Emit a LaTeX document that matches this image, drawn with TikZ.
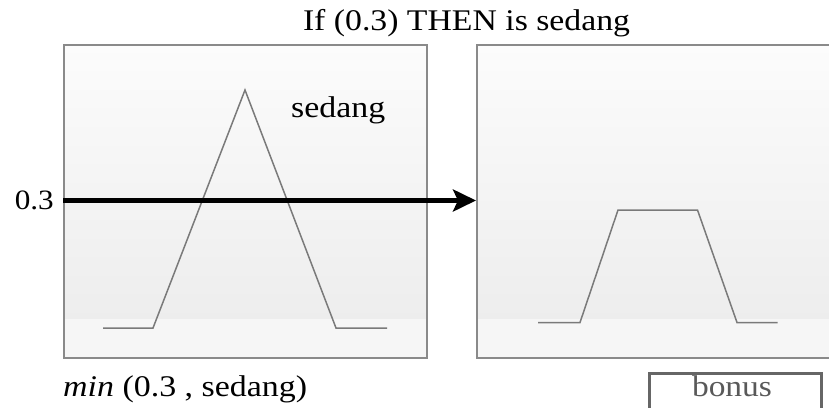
\documentclass[tikz,border=0pt]{standalone}
\usepackage{fontspec}
\usepackage{graphicx}
\setmainfont{Liberation Serif}
\usetikzlibrary{arrows.meta}
\newcommand{\hfitbox}[2]{\resizebox{#1}{\height}{#2}}
\definecolor{framegray}{HTML}{8A8A8A}
\definecolor{curvegray}{HTML}{7A7A7A}
\definecolor{bandgray}{HTML}{F6F6F6}
\definecolor{bonusgray}{HTML}{666666}
\tikzset{
  panel/.style={draw=none, top color=white!60!black!3, bottom color=black!7},
  frame/.style={draw=framegray, line width=1.6pt},
  band/.style={fill=bandgray, draw=none},
  mf/.style={draw=curvegray, line width=1.5pt, line join=miter},
  lab/.style={inner sep=0pt, font=\fontsize{30}{33}\selectfont},
  bigarrow/.style={draw=black, line width=4.5pt, -{Stealth[length=23pt, width=22pt, inset=5pt]}},
}
\begin{document}
\begin{tikzpicture}[x=1pt, y=-1pt]
\useasboundingbox (0,0) rectangle (829,407);
\clip (0,0) rectangle (829,407);
% left panel
\shade[panel] (63,44) rectangle (426,319);
\fill[band] (63,319) rectangle (426,357);
\node[frame, minimum width=363pt, minimum height=313pt, inner sep=0pt, anchor=north west] (inbox) at (63,44) {};
% right panel
\shade[panel] (476,44) rectangle (845,319);
\fill[band] (476,319) rectangle (845,357);
\node[frame, minimum width=369pt, minimum height=313pt, inner sep=0pt, anchor=north west] (outbox) at (476,44) {};
% membership functions
\draw[mf] (103,328) -- (153,328) -- (245,90) -- (336,328) -- (387,328);
\draw[mf] (538,322.5) -- (580,322.5) -- (618,210) -- (697.5,210) -- (737,322.5) -- (777.5,322.5);
% labels
\node[lab, anchor=base] (title) at (466.5,30) {\hfitbox{327pt}{If (0.3) THEN is sedang}};
\node[lab, anchor=base west] (setname) at (291,117) {\hfitbox{94pt}{sedang}};
\node[lab, anchor=base east, font=\fontsize{28}{31}\selectfont] (inval) at (54,209) {\hfitbox{39pt}{0.3}};
\node[lab, anchor=base west] (rule) at (63,396) {\hfitbox{244pt}{\textit{min} (0.3 , sedang)}};
% arrow
\coordinate (arrstart) at (inbox.west |- 0,200.5);
\coordinate (arrend) at (outbox.west |- 0,200.5);
\draw[bigarrow] (arrstart) -- (arrend);
% bonus box
\node[draw=bonusgray, line width=3.2pt, minimum width=172pt, minimum height=44pt, inner sep=0pt, anchor=north west] (bonusbox) at (647.5,372) {};
\node[lab, anchor=base, text=black!65] (bonus) at (732,396) {\hfitbox{80pt}{bonus}};
\end{tikzpicture}
\end{document}
